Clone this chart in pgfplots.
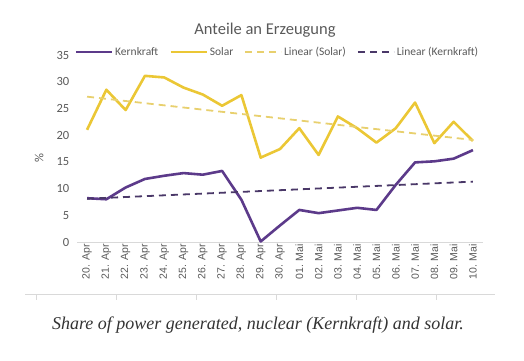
\documentclass[border=0pt]{standalone}
\usepackage{pgfplots}
\pgfplotsset{compat=1.18}
\usepackage{fontspec}
\setmainfont{Carlito}
\newfontfamily\arialfont{Liberation Sans}
\newfontfamily\capfont{Liberation Serif}
\definecolor{kern}{HTML}{5C3A8A}
\definecolor{solar}{HTML}{EBC735}
\definecolor{solartr}{HTML}{E8D06E}
\definecolor{kerntr}{HTML}{4A3868}
\definecolor{txt}{HTML}{595959}
\definecolor{axl}{HTML}{D9D9D9}
\begin{document}
\begin{tikzpicture}[x=1pt,y=1pt]
\path[use as bounding box] (0,0) rectangle (524,360);
\begin{axis}[
  at={(77.4pt,118pt)}, anchor=south west,
  scale only axis, width=405.2pt, height=187pt,
  xmin=-0.5, xmax=20.5, ymin=0, ymax=35,
  axis x line=bottom, axis y line=left,
  x axis line style={axl, line width=0.8pt, -},
  y axis line style={draw=none, -},
  xtick={0,...,20},
  xticklabels={20. Apr,21. Apr,22. Apr,23. Apr,24. Apr,25. Apr,26. Apr,27. Apr,28. Apr,29. Apr,30. Apr,01. Mai,02. Mai,03. Mai,04. Mai,05. Mai,06. Mai,07. Mai,08. Mai,09. Mai,10. Mai},
  x tick label style={rotate=90, anchor=east, font=\arialfont\fontsize{10.5}{12}\selectfont, text=txt, inner sep=2pt},
  ytick={0,5,...,35},
  y tick label style={font=\fontsize{12.5}{14}\selectfont, text=txt, inner sep=2pt, xshift=-6pt},
  /pgf/number format/assume math mode=true,
  major tick length=0pt,
  ylabel={\%}, ylabel style={font=\fontsize{12.5}{14}\selectfont, text=txt, at={(axis description cs:-0.075,0.45)}, anchor=south},
  legend columns=4,
  legend style={at={(rel axis cs:0,1)}, anchor=west, yshift=3pt, xshift=-3pt, draw=none, fill=none,
    font=\fontsize{11.5}{13}\selectfont, text=txt, inner sep=0pt,
    /tikz/every even column/.append style={column sep=9pt}},
  legend image code/.code={\draw[#1] (0pt,0pt) -- (36pt,0pt);},
  clip=false,
]
\addplot[kern, line width=2.6pt, line join=round] coordinates {
(0,8.2) (1,8.0) (2,10.2) (3,11.8) (4,12.4) (5,12.9) (6,12.6) (7,13.3) (8,7.9) (9,0.1)
(10,3.1) (11,6.0) (12,5.4) (13,5.9) (14,6.4) (15,6.0) (16,10.7) (17,14.9) (18,15.1) (19,15.6) (20,17.2)};
\addlegendentry{Kernkraft}
\addplot[solar, line width=2.6pt, line join=round] coordinates {
(0,21.0) (1,28.5) (2,24.7) (3,31.1) (4,30.8) (5,28.9) (6,27.6) (7,25.5) (8,27.5) (9,15.8)
(10,17.4) (11,21.3) (12,16.3) (13,23.5) (14,21.3) (15,18.6) (16,21.3) (17,26.1) (18,18.5) (19,22.5) (20,18.9)};
\addlegendentry{Solar}
\addplot[solartr, line width=1.8pt, dash pattern=on 7pt off 5pt] coordinates {(0,27.2) (20,19.1)};
\addlegendentry{Linear (Solar)}
\addplot[kerntr, line width=1.8pt, dash pattern=on 7pt off 5pt] coordinates {(0,8.1) (20,11.3)};
\addlegendentry{Linear (Kernkraft)}
\end{axis}
\node[text=txt, font=\fontsize{16.5}{19}\selectfont] at (265,330) {Anteile an Erzeugung};
\draw[axl, line width=0.8pt] (25,66) -- (495,66);
\foreach \t in {36,116,196,276,356,436} \draw[axl, line width=0.8pt] (\t,66) -- (\t,60);
\node[text=black!80, font=\capfont\itshape\fontsize{18}{21}\selectfont] at (258,35) {Share of power generated, nuclear (Kernkraft) and solar.};
\end{tikzpicture}
\end{document}
